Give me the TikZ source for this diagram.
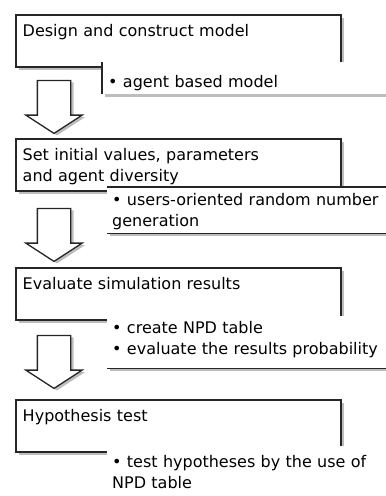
\documentclass[tikz,border=0pt]{standalone}
\usepackage{fontspec}
\setmainfont{DejaVu Sans}
\usetikzlibrary{shapes.arrows, shadows}
\definecolor{FlowLine}{HTML}{262626}
\definecolor{FlowShade}{HTML}{BDBDBD}
\tikzset{
    % Stage boxes - sharp corners, grey shadow
    stagebox/.style={
        rectangle,
        draw=FlowLine,
        line width=1.5pt,
        fill=white,
        anchor=north west,
        text width=311pt,
        align=left,
        inner xsep=7pt,
        inner ysep=4pt,
        text height=18pt,
        text depth=26pt,
        font=\fontsize{16pt}{21pt}\selectfont,
        drop shadow={shadow xshift=3pt, shadow yshift=-3pt, fill=FlowShade, opacity=1}
    },
    % Note boxes under each stage
    notebox/.style={
        rectangle,
        fill=white,
        anchor=north west,
        text width=283pt,
        align=left,
        inner xsep=5pt,
        inner ysep=4pt,
        font=\fontsize{16pt}{21pt}\selectfont,
        drop shadow={shadow xshift=3pt, shadow yshift=-3pt, fill=FlowShade, opacity=1}
    },
    noteedge/.style={
        draw=FlowLine,
        line width=1.5pt
    },
    % Block arrows between stages
    bigarrow/.style={
        single arrow,
        shape border rotate=270,
        draw=FlowLine,
        line width=1.3pt,
        fill=white,
        inner sep=0pt,
        text width=32pt,
        single arrow head extend=11.5pt,
        single arrow tip angle=114,
        minimum height=53pt,
        drop shadow={shadow xshift=3pt, shadow yshift=-2pt, fill=FlowShade, opacity=1}
    }
}
\begin{document}
\begin{tikzpicture}[x=1pt, y=-1pt]
    \clip (0,0) rectangle (386,496);

    \node[stagebox] (design) at (15,14) {Design and construct model};
    \node[notebox, inner xsep=6pt, text height=21pt, text depth=3pt] (agentnote) at (102,62) {• agent based model};
    \draw[noteedge] (agentnote.north west) -- (agentnote.south west);
    \node[bigarrow] (arrowA) at (54,101.5) {};

    \node[stagebox] (setvals) at (15,138) {Set initial values, parameters\\and agent diversity};
    \node[notebox, text height=14pt, text depth=24pt] (randnote) at (107,187) {• users-oriented random number\\generation};
    \draw[noteedge] (randnote.north west) -- (randnote.north east);
    \draw[noteedge] (randnote.south west) -- (randnote.south east);
    \node[bigarrow] (arrowB) at (54,229.5) {};

    \node[stagebox] (evaluate) at (15,267) {Evaluate simulation results};
    \node[notebox, text height=13pt, text depth=31pt] (npdnote) at (107,316) {• create NPD table\\• evaluate the results probability};
    \draw[noteedge] (npdnote.south west) -- (npdnote.south east);
    \node[bigarrow] (arrowC) at (54,356.5) {};

    \node[stagebox] (hyptest) at (15,399) {Hypothesis test};
    \node[notebox, text height=17pt, text depth=40pt] (testnote) at (107,446) {• test hypotheses by the use of\\NPD table};
\end{tikzpicture}
\end{document}
